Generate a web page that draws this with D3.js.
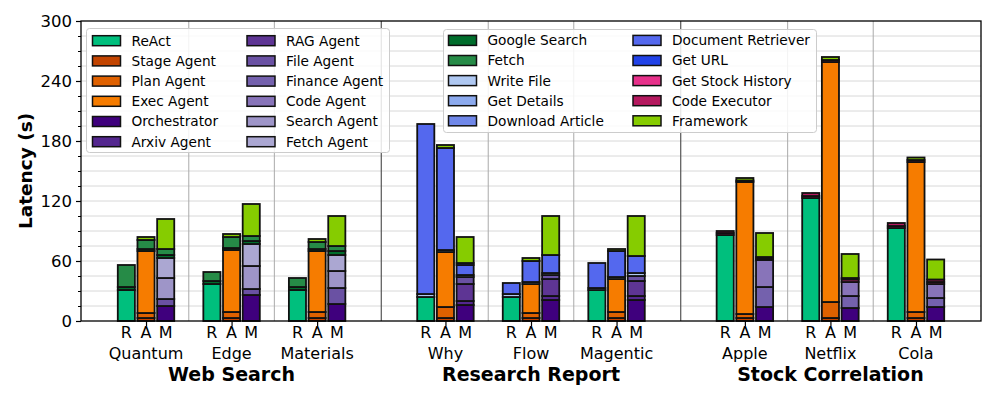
<!DOCTYPE html>
<html>
<head>
<meta charset="utf-8">
<script src="https://cdn.jsdelivr.net/npm/d3@7"></script>
<style>
  html, body { margin: 0; padding: 0; background: #fff; }
  svg { display: block; font-family: "DejaVu Sans", sans-serif; }
</style>
</head>
<body>
<svg id="chart" width="997" height="399"></svg>
<script>
// ---------------------------------------------------------------------------
// Data
// ---------------------------------------------------------------------------
const tasks        = ['Web Search', 'Research Report', 'Stock Correlation'];
const categories   = ['Quantum', 'Edge', 'Materials', 'Why', 'Flow', 'Magentic', 'Apple', 'Netflix', 'Cola'];
const categoryTask = [0, 0, 0, 1, 1, 1, 2, 2, 2];
const methods      = ['R', 'A', 'M'];
const yTicks       = [0, 60, 120, 180, 240, 300];

// one value per bar, ordered Quantum R,A,M, Edge R,A,M, ... Cola R,A,M  (seconds)
const react          = [31,0,0,  37,0,0,  31,0,0,  24,0,0,  24,0,0,  31,0,0,  86,0,0,  123,0,0,  93,0,0];
const stageAgent     = [0,3,0,   0,3,0,   0,3,0,   0,3,0,   0,3,0,   0,3,0,   0,3,0,   0,3,0,    0,3,0];
const planAgent      = [0,5,0,   0,6,0,   0,6,0,   0,11,0,  0,5,0,   0,6,0,   0,4,0,   0,16,0,   0,6,0];
const execAgent      = [0,62,0,  0,62,0,  0,61,0,  0,55,0,  0,29,0,  0,33,0,  0,132,0, 0,240,0,  0,150,0];
const orchestrator   = [0,0,15,  0,0,26,  0,0,17,  0,0,16,  0,0,21,  0,0,21,  0,0,14,  0,0,13,   0,0,14];
const arxivAgent     = [0,0,0,   0,0,0,   0,0,0,   0,0,4,   0,0,4,   0,0,4,   0,0,0,   0,0,0,    0,0,0];
const ragAgent       = [0,0,0,   0,0,0,   0,0,0,   0,0,17,  0,0,17,  0,0,15,  0,0,0,   0,0,0,    0,0,0];
const fileAgent      = [0,0,7,   0,0,6,   0,0,16,  0,0,7,   0,0,4,   0,0,5,   0,0,0,   0,0,0,    0,0,0];
const financeAgent   = [0,0,0,   0,0,0,   0,0,0,   0,0,0,   0,0,0,   0,0,0,   0,0,20,  0,0,12,   0,0,9];
const codeAgent      = [0,0,0,   0,0,0,   0,0,0,   0,0,0,   0,0,0,   0,0,0,   0,0,27,  0,0,14,   0,0,14];
const searchAgent    = [0,0,21,  0,0,23,  0,0,17,  0,0,0,   0,0,0,   0,0,0,   0,0,0,   0,0,0,    0,0,0];
const fetchAgent     = [0,0,20,  0,0,22,  0,0,16,  0,0,0,   0,0,0,   0,0,0,   0,0,0,   0,0,0,    0,0,0];
const googleSearch   = [3,2,3,   3,2,3,   3,2,4,   0,0,0,   0,0,0,   0,0,0,   0,0,0,   0,0,0,    0,0,0];
const fetchTool      = [22,9,6,  9,11,5,  9,7,5,   0,0,0,   0,0,0,   0,0,0,   0,0,0,   0,0,0,    0,0,0];
const writeFile      = [0,0,0,   0,0,0,   0,0,0,   3,2,2,   3,2,2,   2,2,3,   0,0,0,   0,0,0,    0,0,0];
const getDetails     = [0,0,0,   0,0,0,   0,0,0,   0,0,0,   0,0,0,   0,0,0,   0,0,0,   0,0,0,    0,0,0];
const downloadArticle= [0,0,0,   0,0,0,   0,0,0,   0,0,0,   0,0,0,   0,0,0,   0,0,0,   0,0,0,    0,0,0];
const docRetriever   = [0,0,0,   0,0,0,   0,0,0,   170,102,10, 11,21,18, 25,26,17, 0,0,0, 0,0,0,   0,0,0];
const getUrl         = [0,0,0,   0,0,0,   0,0,0,   0,0,2,   0,0,0,   0,0,0,   0,0,0,   0,0,0,    0,0,0];
const stockHistory   = [0,0,0,   0,0,0,   0,0,0,   0,0,0,   0,0,0,   0,0,0,   2,0,1.5, 2,0,2.5,  2,0,2];
const codeExecutor   = [0,0,0,   0,0,0,   0,0,0,   0,0,0,   0,0,0,   0,0,0,   2,1.5,1.5, 3,2,1.5, 3,2,2.5];
const framework      = [0,3,30,  0,3,32,  0,3,30,  0,3,26,  0,3,39,  0,2,40,  0,2.5,24, 0,3,24, 0,2.5,20];

const seriesNames = [
  'ReAct', 'Stage Agent', 'Plan Agent', 'Exec Agent', 'Orchestrator', 'Arxiv Agent',
  'RAG Agent', 'File Agent', 'Finance Agent', 'Code Agent', 'Search Agent', 'Fetch Agent',
  'Google Search', 'Fetch', 'Write File', 'Get Details', 'Download Article',
  'Document Retriever', 'Get URL', 'Get Stock History', 'Code Executor', 'Framework',
];
const seriesValues = [
  react, stageAgent, planAgent, execAgent, orchestrator, arxivAgent,
  ragAgent, fileAgent, financeAgent, codeAgent, searchAgent, fetchAgent,
  googleSearch, fetchTool, writeFile, getDetails, downloadArticle,
  docRetriever, getUrl, stockHistory, codeExecutor, framework,
];
const seriesColors = [
  '#00bf7d', '#c24400', '#df6100', '#f67c00', '#3f007d', '#54278f',
  '#5e3594', '#6a51a3', '#7461ad', '#8874b9', '#9e95c8', '#aba7d2',
  '#006d2c', '#268b47', '#afc8f2', '#8caaee', '#6f87e8',
  '#5468ee', '#2142e8', '#e7308a', '#b5195f', '#86cc00',
];

// ---------------------------------------------------------------------------
// Layout
// ---------------------------------------------------------------------------
const svg = d3.select('#chart');
const plot = { left: 81, right: 981, top: 21, bottom: 321 };

const x = d3.scaleLinear().domain([-0.76, 9.76]).range([plot.left, plot.right]);
const y = d3.scaleLinear().domain([0, 300]).range([plot.bottom, plot.top]);

const catPos   = categories.map((c, i) => i + categoryTask[i] * 0.5);
const barStep  = 0.23;
const barWidth = x(0.2) - x(0);

// grid (every 15 s)
svg.append('g')
  .selectAll('line')
  .data(d3.range(15, 300, 15))
  .join('line')
    .attr('x1', plot.left).attr('x2', plot.right)
    .attr('y1', d => y(d)).attr('y2', d => y(d))
    .attr('stroke', '#d8d8d8')
    .attr('stroke-width', 1);

// separators between categories / tasks
const seps = [];
catPos.forEach((p, i) => {
  if (i === 0) return;
  seps.push({ pos: (p + catPos[i - 1]) / 2, major: categoryTask[i] !== categoryTask[i - 1] });
});
svg.append('g')
  .selectAll('line')
  .data(seps)
  .join('line')
    .attr('x1', d => x(d.pos)).attr('x2', d => x(d.pos))
    .attr('y1', plot.top).attr('y2', plot.bottom)
    .attr('stroke', d => d.major ? '#555' : '#aaa')
    .attr('stroke-width', d => d.major ? 1.2 : 1);

// ---- stacked bars ----
const rows = d3.range(categories.length * methods.length).map(k => {
  const r = {};
  seriesNames.forEach((n, s) => { r[n] = seriesValues[s][k]; });
  return r;
});
const stacked = d3.stack().keys(seriesNames)(rows);

const barCenter = k => x(catPos[Math.floor(k / 3)] + (k % 3 - 1) * barStep);

const barG = svg.append('g');
stacked.forEach((layer, s) => {
  barG.append('g')
    .selectAll('rect')
    .data(layer.map((d, k) => ({ k, y0: d[0], y1: d[1] })).filter(d => d.y1 - d.y0 > 0))
    .join('rect')
      .attr('x', d => barCenter(d.k) - barWidth / 2)
      .attr('width', barWidth)
      .attr('y', d => y(d.y1))
      .attr('height', d => y(d.y0) - y(d.y1))
      .attr('fill', seriesColors[s])
      .attr('stroke', '#111')
      .attr('stroke-width', 1.8);
});

// ---- axes ----
const yAxis = svg.append('g')
  .attr('transform', `translate(${plot.left},0)`)
  .call(d3.axisLeft(y).tickValues(yTicks).tickSize(5).tickPadding(4));
yAxis.select('.domain').remove();
yAxis.selectAll('text')
  .attr('font-size', 16.5)
  .attr('font-family', 'DejaVu Sans')
  .attr('fill', '#000');
yAxis.selectAll('line').attr('stroke', '#000').attr('stroke-width', 1.2);

const yMinor = svg.append('g')
  .attr('transform', `translate(${plot.left},0)`)
  .call(d3.axisLeft(y)
    .tickValues(d3.range(15, 300, 15).filter(v => v % 60 !== 0))
    .tickSize(3).tickFormat(''));
yMinor.select('.domain').remove();
yMinor.selectAll('line').attr('stroke', '#000').attr('stroke-width', 1);

const xAxis = svg.append('g')
  .attr('transform', `translate(0,${plot.bottom})`)
  .call(d3.axisBottom(x).tickValues(catPos).tickSize(5).tickFormat(''));
xAxis.select('.domain').remove();
xAxis.selectAll('line').attr('stroke', '#000').attr('stroke-width', 1.2);

// frame
svg.append('rect')
  .attr('x', plot.left).attr('y', plot.top)
  .attr('width', plot.right - plot.left).attr('height', plot.bottom - plot.top)
  .attr('fill', 'none')
  .attr('stroke', '#000')
  .attr('stroke-width', 1.3);

// y label
svg.append('text')
  .attr('transform', `translate(32,171) rotate(-90)`)
  .attr('text-anchor', 'middle')
  .attr('font-size', 18.5)
  .attr('font-weight', 'bold')
  .text('Latency (s)');

// R / A / M labels, category labels, task labels
const labG = svg.append('g').attr('text-anchor', 'middle').attr('fill', '#000');
catPos.forEach((p, i) => {
  methods.forEach((m, j) => {
    labG.append('text')
      .attr('x', x(p + (j - 1) * barStep))
      .attr('y', 338)
      .attr('font-size', 16)
      .text(m);
  });
  labG.append('text')
    .attr('x', x(p)).attr('y', 359)
    .attr('font-size', 16)
    .text(categories[i]);
});
tasks.forEach((t, ti) => {
  const ps = catPos.filter((p, i) => categoryTask[i] === ti);
  labG.append('text')
    .attr('x', x(d3.mean(ps))).attr('y', 381)
    .attr('font-size', 19)
    .attr('font-weight', 'bold')
    .text(t);
});

// ---- legends ----
function drawLegend(idx, box, cols, rowY, rowStep) {
  const g = svg.append('g');
  g.append('rect')
    .attr('x', box.x).attr('y', box.y)
    .attr('width', box.w).attr('height', box.h)
    .attr('rx', 3)
    .attr('fill', 'rgba(255,255,255,0.85)')
    .attr('stroke', '#ccc');
  const perCol = Math.ceil(idx.length / 2);
  idx.forEach((s, n) => {
    const c = Math.floor(n / perCol), r = n % perCol;
    const cy = rowY + r * rowStep;
    g.append('rect')
      .attr('x', cols[c]).attr('y', cy - 5)
      .attr('width', 28).attr('height', 10)
      .attr('fill', seriesColors[s])
      .attr('stroke', '#111')
      .attr('stroke-width', 1.5);
    g.append('text')
      .attr('x', cols[c] + 39).attr('y', cy)
      .attr('dy', '0.36em')
      .attr('font-size', 13.7)
      .text(seriesNames[s]);
  });
}
drawLegend(d3.range(0, 12),  { x: 86.5,  y: 28.5, w: 303, h: 124 }, [92.5, 247], 40.7, 20.2);
drawLegend(d3.range(12, 22), { x: 443.5, y: 29.5, w: 373, h: 103 }, [448.5, 633], 40.4, 20.1);
</script>
</body>
</html>
